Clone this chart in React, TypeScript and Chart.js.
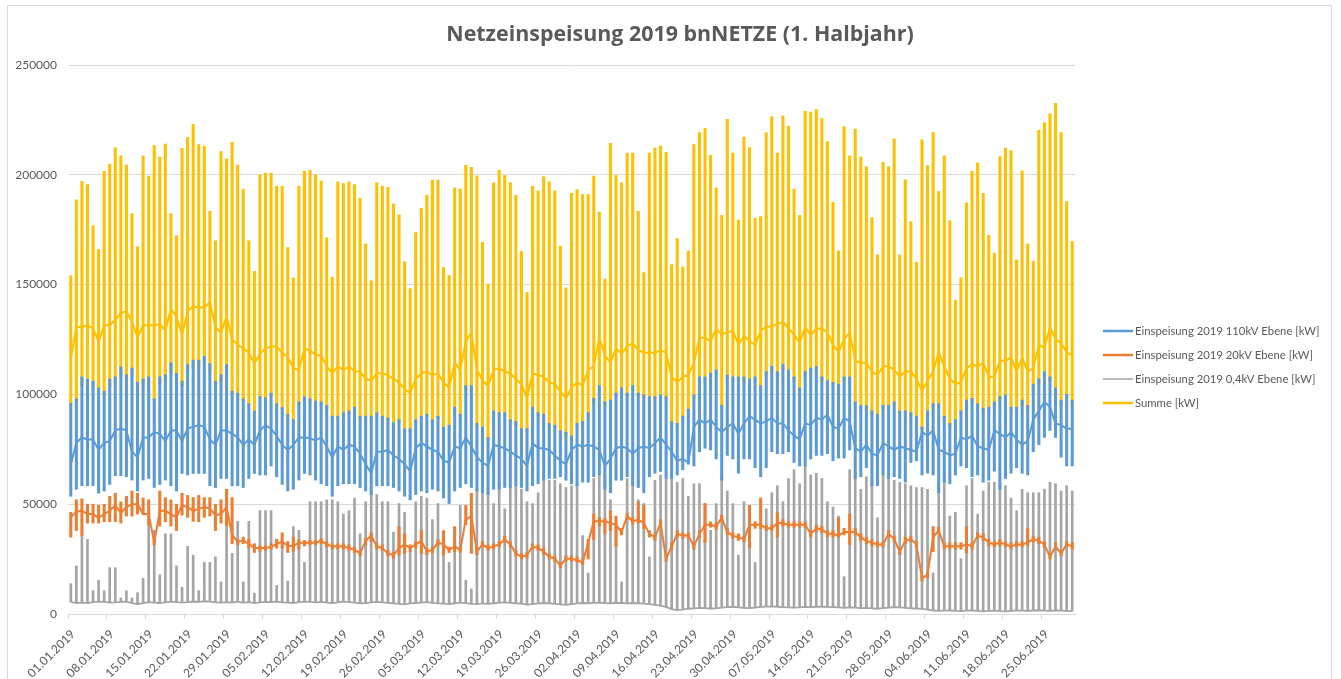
import React, { useEffect, useRef } from "react";
import { Chart, registerables } from "chart.js";

Chart.register(...registerables);

// ---- DATA (values in thousand kW, one entry per day, 01.01.2019 .. 30.06.2019) ----
const TITLE = "Netzeinspeisung 2019 bnNETZE (1. Halbjahr)";
const SERIES_LABELS = [
  "Einspeisung 2019 110kV Ebene [kW]",
  "Einspeisung 2019 20kV Ebene [kW]",
  "Einspeisung 2019 0,4kV Ebene [kW]",
  "Summe [kW]",
];
const TICK_LABELS = [
  "01.01.2019", "08.01.2019", "15.01.2019", "22.01.2019", "29.01.2019", "05.02.2019",
  "12.02.2019", "19.02.2019", "26.02.2019", "05.03.2019", "12.03.2019", "19.03.2019",
  "26.03.2019", "02.04.2019", "09.04.2019", "16.04.2019", "23.04.2019", "30.04.2019",
  "07.05.2019", "14.05.2019", "21.05.2019", "28.05.2019", "04.06.2019", "11.06.2019",
  "18.06.2019", "25.06.2019",
];
const Y_TICKS = [0, 50000, 100000, 150000, 200000, 250000];

// Summe: daily maximum, daily minimum, value at midnight
const SUM_MAX = [
  154, 188.6, 197, 195.6, 176.8, 166, 201.6, 204.9, 212.3, 208.6, 204.5, 182.3, 167.2, 208.6, 199.4, 213.3, 208, 214, 182.3, 172.2, 212, 217, 223, 213.8, 213, 183.4, 170, 210.6, 207.3, 214.8, 204.4, 193.5, 170, 156, 200, 200.8, 200.8, 194.8, 194.8, 166.9, 153, 194.8, 201.6, 202, 200,
  197.2, 171.3, 153.4, 196.8, 196, 196.8, 195.6, 189.4, 168.5, 151.8, 196.4, 194.8, 194.3, 186.7, 181.8, 160.4, 148.2, 173.7, 184.7, 190.7, 197.6, 197.6, 157.8, 154.2, 194, 193.5, 204.4, 203.4, 199.5, 169.2, 150.2, 196.4, 202.1, 199.7, 196.4, 190.7, 165.1, 146.4, 194.8, 192.7, 199.2, 196.8, 192.7, 167.5, 148.5,
  191.6, 193.2, 191, 191, 199.4, 183, 152.6, 214.3, 199.7, 196.4, 209.9, 209.9, 183.4, 155.5, 209.9, 212.2, 213.1, 210.2, 159.1, 171, 158, 165.3, 213.8, 219.2, 221.1, 208.9, 194, 181.5, 225.3, 209.9, 179.4, 217.2, 212.3, 180.2, 181, 219.2, 226.5, 209.9, 226.8, 222.1, 193.5, 181.5, 228.9, 228.6, 229.7,
  225.6, 215.1, 187.5, 165.3, 221.9, 208.6, 220.8, 208.1, 203.7, 180.5, 163.5, 205.7, 203.7, 216.4, 163.5, 197.7, 178.6, 160.2, 215.9, 204.2, 219.2, 192.4, 208.6, 179.1, 142.9, 153.1, 187.2, 201.6, 205.4, 191.6, 172.4, 164.3, 208.3, 212.2, 211, 161.2, 201.8, 168.5, 160.7, 220.3, 223.7, 227.8, 232.5, 219.2, 187.8, 169.6,
];
const SUM_MIN = [
  95, 97, 104, 104, 103, 101, 100, 104, 105, 108, 106, 108, 102, 104, 105, 97, 105, 106, 110, 106, 104, 110, 112, 112, 114, 110, 103, 106, 110, 100, 99, 97, 95, 92, 98, 97, 99, 95, 93, 90, 88, 95, 97, 96, 95,
  95, 93, 88, 89, 90, 91, 92, 89, 88, 88, 90, 89, 88, 86, 87, 83, 83, 87, 89, 90, 87, 89, 84, 85, 92, 90, 102, 102, 85, 84, 79, 91, 90, 90, 87, 86, 83, 83, 92, 90, 90, 85, 85, 82, 81,
  80, 85, 86, 90, 96, 102, 95, 96, 99, 101, 99, 102, 99, 98, 98, 98, 98, 98, 86, 85, 89, 92, 98, 106, 106, 108, 109, 94, 107, 106, 106, 106, 105, 106, 102, 108, 110, 108, 111, 109, 106, 101, 108, 110, 110,
  106, 104, 104, 103, 106, 106, 95, 93, 93, 91, 89, 93, 93, 95, 91, 91, 90, 88, 84, 91, 94, 94, 88, 85, 87, 91, 96, 96, 94, 92, 92, 95, 97, 98, 92, 92, 95, 93, 102, 105, 108, 106, 101, 95, 98, 95,
];
const SUM_NIGHT = [
  116, 130.7, 130.7, 131.5, 130, 124, 131.5, 131.5, 134, 137, 138, 133, 126, 131.5, 131.5, 131.5, 132, 129, 139, 135.5, 127, 138, 140, 139.6, 139.6, 142, 130.7, 128, 135.5, 125, 122.6, 121, 119, 114, 118.5, 121, 121.8, 121.8, 119, 117, 112, 111, 121, 120, 118,
  117.7, 112.8, 109.6, 112.8, 111.2, 112.8, 110.4, 110.4, 107.1, 106.3, 109.6, 109.6, 108.8, 107.1, 105.5, 102.3, 100.6, 107, 109.6, 110.4, 108.8, 109.6, 105.5, 103, 114.4, 111.2, 124.2, 128.2, 111.2, 106.3, 103.9, 111.2, 112, 110.4, 109.6, 107, 104.7, 98.2, 109.6, 108.8, 108, 105.5, 104.7, 101.5, 98.2,
  103, 105.5, 104, 111.2, 112.8, 125.8, 117.7, 114.4, 121, 118.5, 121.8, 123.4, 120.1, 119, 119, 119, 120.1, 119, 108, 105.5, 108, 108.8, 114.4, 125.8, 125.8, 124.2, 129.9, 127.4, 128.2, 129, 122.6, 126.6, 124.2, 122.6, 129, 130.7, 131, 132, 133.1, 129.9, 127.4, 123.4, 130.7, 127, 130,
  129.9, 128.2, 122.6, 119.3, 125, 128.2, 115.3, 114.4, 114.4, 110.4, 108.8, 112.8, 112.8, 111.2, 108, 110.4, 110.4, 107.1, 101.5, 106.3, 110.4, 119.3, 112.8, 107.1, 104.7, 105.5, 112, 113.6, 112.8, 114.4, 108, 108, 115.3, 115.3, 116.9, 110.4, 116.9, 110.4, 112, 122.6, 121, 130.7, 125, 123.4, 119.3, 117.7,
];

// 110kV
const HV_MAX = [
  96, 98, 108, 107, 106, 103, 101.5, 107, 108, 112.5, 109, 112, 105.5, 107, 108, 98, 108, 109, 114.4, 109.6, 106, 113.6, 115.6, 115.6, 117.4, 114, 106, 109, 113.6, 101.5, 100.6, 98, 95.8, 92.5, 99, 98.5, 100.6, 95.8, 94, 91, 88.5, 96.6, 99, 98, 97,
  96.6, 95, 90.1, 90.1, 91.7, 92.5, 94.2, 90.1, 90.1, 90.1, 91.7, 90.1, 89.3, 87.2, 88.5, 84.4, 84.4, 88.5, 90.1, 91, 88.5, 90.1, 85.2, 86, 94.2, 91, 104, 104, 86.8, 85.2, 80.4, 92.5, 91.7, 91.7, 88.5, 87.7, 84.4, 84.4, 94.2, 91.7, 91, 86.8, 86, 83.6, 82.8,
  81.2, 86.8, 87.7, 91.7, 98.2, 104, 96.6, 97.4, 100.6, 103, 100.6, 104, 100.6, 99.8, 99, 99, 99.8, 99, 87.7, 86.8, 90.1, 93.3, 99.8, 108, 108, 109.6, 111.2, 95, 108.8, 108, 108, 108, 107.1, 108, 104, 110.4, 112.8, 110.4, 113.6, 111.2, 108, 103, 110.4, 112, 112.8,
  108, 106.3, 105.5, 104.7, 108, 108, 96.6, 95, 95, 92.5, 91, 95, 95, 96.6, 92.5, 92.5, 91.7, 90.1, 85.2, 92.5, 95.8, 95.8, 90.1, 86.8, 88.5, 92.5, 97.4, 98.2, 95.8, 93.7, 94.2, 96.6, 99, 99.8, 94.2, 94.2, 97.4, 95, 104.7, 107.1, 110.4, 108, 103, 97.4, 100, 97.4,
];
const HV_MIN = [
  53.6, 56.8, 58.4, 58.4, 58.4, 55, 56, 59, 63, 63, 62.5, 61, 56, 61, 61.7, 57.6, 59, 61, 58.4, 56, 64, 63.3, 64, 64, 64, 58.4, 57.6, 61.7, 61.7, 58.4, 58.4, 57.6, 61.7, 64, 63.3, 63.3, 67.4, 62.5, 59, 56, 56.8, 61, 64, 63.3, 61,
  59.3, 58.4, 53.6, 58.4, 59.3, 59.3, 59.3, 57.6, 56, 54.4, 58.4, 58.4, 58.4, 57.6, 56, 53.6, 52, 54.4, 56, 55.2, 56.8, 56, 52.8, 50.3, 56, 57.6, 59.3, 57.6, 56, 55.2, 54.4, 56.8, 56.8, 57.6, 57.6, 58.4, 57.6, 56, 58.4, 59.3, 60.9, 61.7, 61.7, 62.5, 60.9,
  59.3, 58.4, 60, 60, 62.5, 63.3, 56.8, 55.2, 60.9, 60.9, 62.5, 58.4, 57.6, 55.2, 62.5, 64.1, 64.9, 61.7, 61.7, 63.3, 65.7, 68.2, 67.4, 73.9, 75.5, 74.7, 70.6, 60.9, 72.2, 70.6, 64.1, 70.6, 70.6, 66.6, 62.5, 66.6, 73.9, 73, 73, 73.9, 69, 67.4, 67.4, 70.6, 72.2,
  72.2, 73, 69.8, 71, 71, 74.7, 61.7, 62.5, 66.6, 58.4, 58.4, 63.3, 61.7, 62.5, 61.7, 60, 69, 69.8, 63.3, 64.1, 63.3, 55.2, 60, 59.3, 63.3, 67.4, 66.6, 62.5, 63.3, 60, 60.9, 65, 56.8, 61.7, 64.1, 66.6, 64.1, 63.3, 73.9, 77.1, 80.4, 83.6, 80.4, 71.4, 67.4, 67.4,
];
const HV_NIGHT = [
  68, 78, 80.4, 79.5, 79.5, 74.7, 78, 78.7, 83.6, 84.4, 83.6, 73.9, 71.4, 80.4, 80.4, 82.8, 82, 78.7, 83.6, 83.6, 78.7, 84.4, 85.2, 86, 85.2, 79.5, 77, 83.6, 83.6, 82, 80.4, 77, 79.5, 77, 83.6, 86, 84.4, 81, 77, 74.7, 77, 80.4, 80.4, 80, 79,
  80.4, 76.3, 71.4, 76.3, 74.7, 77.1, 76.3, 73, 68.2, 64.1, 73.9, 73.9, 74.7, 72.2, 70.6, 68.2, 65, 75.5, 77.9, 76.3, 74.7, 73.9, 69.8, 69, 76.3, 75.5, 80.4, 76.3, 71.4, 69, 67.4, 77.1, 76.3, 75.5, 73.9, 72.2, 70.6, 67.4, 77.9, 75.5, 75.5, 74.7, 72.2, 69.8, 68.2,
  74.7, 77.1, 76.3, 77.1, 76.3, 74.7, 67.4, 70.6, 75.5, 76.3, 75.5, 73, 75.5, 76.3, 75.5, 77.9, 80.4, 77.1, 73.9, 69.8, 70.6, 69, 85.2, 88.5, 86.8, 88.5, 85.2, 82.8, 85.2, 86.8, 82, 86.8, 90.1, 88.5, 86.8, 87.7, 89.3, 86.8, 86.8, 83.6, 81.2, 79.5, 86.8, 86, 89.3,
  88.5, 90.9, 85.2, 84.4, 89.3, 87.7, 75.5, 73.9, 77.1, 73, 72.2, 77.9, 76.3, 74.7, 76.3, 75.5, 74.7, 73.9, 82.8, 81.2, 83.6, 74.7, 73.9, 72.2, 73, 80.4, 79.5, 81.2, 76.3, 75.5, 74.7, 83.6, 82, 80.4, 82.8, 79.5, 77.1, 78.7, 88.5, 92.5, 96.6, 94.2, 86.8, 86, 84.4, 84.4,
];

// 20kV
const MV_MAX = [
  46.3, 52, 52.4, 50, 50, 49.5, 50, 53.6, 55, 51, 53.6, 56, 55, 52.8, 52, 34, 56, 53, 52, 50, 55, 54, 53, 54, 53, 53, 50, 52, 56.8, 53, 34, 35, 34, 32, 31, 31, 32, 34, 37, 33, 35, 34, 33.5, 33.5, 33.5,
  34.5, 33, 32, 32, 32, 31.5, 30.5, 29, 34.5, 37, 32, 31.5, 29, 28, 39.8, 36.5, 31.5, 33, 38, 30, 30.5, 34, 38, 30.5, 39.8, 30.5, 49.5, 55, 30, 33, 31.5, 32, 33, 35.5, 33, 29, 27.5, 28, 32, 31.5, 30, 27.5, 26.5, 23.5, 26.5,
  26.5, 26, 25, 34, 45.5, 44, 43.5, 47, 44.6, 39, 46, 44, 51.1, 49.5, 38, 36.5, 43, 27, 32.5, 38, 37, 37, 32.5, 38, 50.3, 42, 41.5, 45, 39, 37, 36.5, 35.5, 49.5, 42, 52.8, 40.5, 40.5, 46.3, 43, 42, 42, 42, 42, 38, 40.5,
  40, 38, 38, 43.8, 39, 45.5, 39, 36.5, 35, 34, 33, 33, 38, 35.5, 30, 35, 35.5, 33, 17.5, 19, 39.8, 39.5, 32.5, 32.5, 32.5, 32.5, 39.8, 32.5, 37, 36.5, 34, 33, 34, 33, 32.5, 33, 33, 38.9, 35.5, 35, 33, 27.5, 32.5, 29, 33, 32.5,
];
const MV_MIN = [
  35, 38, 35.7, 41.4, 41.4, 41.4, 42, 42, 42, 41.4, 44.6, 44.6, 45.5, 45.5, 40.6, 31.5, 40, 42, 40, 38, 45, 44, 42.2, 42, 44, 44.6, 38, 41.4, 40, 32, 31.5, 32, 30, 28, 28.5, 29, 29.5, 30, 30, 28, 28.5, 29.5, 31, 31.5, 31.5,
  32, 30.5, 29.5, 29.5, 29.5, 29, 28, 26.5, 31.5, 33, 29.5, 29, 26.5, 25.5, 26.8, 27.6, 28.5, 30, 27.6, 27, 28, 31, 26.8, 28, 28.4, 28, 40.6, 27.6, 27, 30.5, 29, 29.5, 30.5, 32.5, 30.5, 26.5, 25, 25.5, 29.5, 29, 27, 25, 24, 21, 24,
  24, 23.5, 22.5, 25, 34, 40, 36.5, 38, 30.8, 36, 43, 41, 41.4, 38.9, 35, 33.5, 40, 24, 29.5, 35, 34.5, 34.5, 29.5, 35, 32.5, 39.5, 38.5, 42, 36, 34.5, 33.5, 33, 30, 39, 38.9, 38, 38, 34.9, 40, 39.5, 39.5, 39.5, 39.5, 35, 37.5,
  37, 35, 35, 34.9, 36, 31.7, 36, 33.5, 32, 31, 30.5, 30.5, 35, 33, 27, 32, 33, 30.5, 15, 16.5, 28.4, 37, 29.5, 29.5, 29.5, 29.5, 27.6, 29.5, 34.5, 33.5, 31, 30.5, 31, 30.5, 29.5, 30.5, 30.5, 31, 33, 32, 30.5, 25, 29.5, 26.5, 30.5, 29.5,
];
const MV_NIGHT = [
  44, 46.6, 47, 45.5, 45.5, 43.8, 45.5, 47, 49.5, 46, 48.7, 50, 50, 45.5, 45.5, 32.5, 47, 47, 45.5, 44, 49.5, 48.7, 47, 48, 48.7, 48, 45, 45.5, 48.7, 36, 33, 33.3, 32, 30, 30, 30, 30.5, 32, 33, 31, 31, 32.5, 32.5, 32.5, 32.5,
  33.3, 31.7, 30.8, 30.8, 30.8, 30, 29.2, 27.6, 33.3, 35.7, 30.8, 30, 27.6, 26.8, 30, 31.7, 30, 31.7, 33.3, 28.4, 29.2, 32.5, 31.7, 29.2, 30.8, 29.2, 43, 44.6, 28.4, 31.7, 30, 30.8, 31.7, 34, 31.7, 27.6, 26, 26.8, 30.8, 30, 28.4, 26, 25.2, 22, 25.2,
  25.2, 24.5, 23.5, 32.5, 42.2, 42.2, 42.2, 41.4, 40.6, 37.3, 44.6, 42.2, 43, 41.4, 36.5, 34.9, 41.4, 25.2, 30.8, 36.5, 35.7, 35.7, 30.8, 36.5, 40.6, 40.6, 39.8, 43.8, 37.3, 35.7, 34.9, 34.1, 40.6, 40.6, 40.6, 39, 39, 41.4, 41.4, 40.6, 40.6, 40.6, 40.6, 36.5, 39,
  38.5, 36.5, 36.5, 35.7, 37.3, 37.3, 37.3, 34.9, 33.3, 32.5, 31.7, 31.7, 36.5, 34.1, 28.4, 33.3, 34.1, 31.7, 16.2, 17.9, 34.9, 38.1, 30.8, 30.8, 30.8, 30.8, 31.7, 30.8, 35.7, 34.9, 32.5, 31.7, 32.5, 31.7, 30.8, 31.7, 31.7, 32.5, 34.1, 33.3, 31.7, 26, 30.8, 27.6, 31.7, 30.8,
];

// 0,4kV
const LV_MAX = [
  13.8, 21.9, 35.7, 34, 10.6, 15.4, 10.6, 21.1, 21.1, 7.3, 10.6, 7.3, 9.7, 16.2, 40.6, 38.1, 17.9, 36.5, 36.5, 21.9, 12.2, 30.8, 26.8, 10.6, 23.5, 23.5, 26, 14.6, 39.8, 27.6, 42.2, 14.6, 42.2, 9.5, 47.1, 47.1, 47.1, 13, 32, 15, 39.8, 38.1, 23.5, 51.1, 51.1,
  51.1, 52, 52, 51.1, 45.5, 47, 52.8, 36.5, 51.1, 55.2, 54.4, 51.1, 51.1, 37.3, 50.3, 46.3, 29.2, 51.1, 53.6, 52.8, 43, 50.3, 30.8, 23.5, 39, 49.5, 15.4, 11.4, 56.8, 56.8, 57.6, 50.3, 60, 47.9, 58.4, 58.4, 56.8, 51.1, 50.3, 55.2, 61.7, 60.9, 60.9, 59.3, 57.6,
  58.4, 59.3, 35.7, 18.7, 61.7, 63.3, 63.3, 52, 39.8, 14.6, 61.7, 63.3, 52, 50.3, 26, 60.9, 63.3, 61.7, 61.7, 60, 61.7, 53.6, 59.3, 59.3, 50.3, 38.1, 50.3, 63.3, 56, 50.3, 26.8, 51.1, 48.7, 23.5, 39, 47.9, 55.2, 58.4, 51.1, 61.7, 65.7, 59.3, 67.4, 63.3, 64.1,
  61.7, 51.1, 48.7, 44.6, 17, 65.7, 64.9, 56.8, 62.5, 60.9, 43.8, 63.3, 63.3, 60.9, 60, 59.3, 58.4, 57.6, 57.6, 56.8, 18.7, 59.3, 63.3, 44.6, 46.3, 25.2, 58.4, 61.7, 45.5, 56, 60, 60, 59.3, 58.4, 52.8, 47, 56.8, 55.2, 55.2, 55.2, 56.8, 60, 59.3, 56, 58.4, 56,
];
const LV_NIGHT = [
  5.5, 5, 5.2, 5, 5.4, 5.6, 5.5, 5.2, 5.3, 5.5, 5.6, 4.9, 4.5, 5, 5.4, 5.2, 5, 5.3, 5.6, 5.4, 5.2, 5.4, 5.7, 5.5, 5.8, 5.6, 5.3, 5.2, 5.4, 5.2, 5.6, 5.2, 5.4, 5, 5.3, 5.5, 5.4, 5.6, 5.3, 5.2, 5, 5.4, 5.6, 5.5, 5.3,
  5.5, 5.2, 5, 5.3, 5.6, 5.4, 5.2, 4.8, 5, 5.3, 5.5, 5.3, 5.1, 4.9, 4.6, 4.4, 4.8, 5, 5.2, 5.4, 5.1, 4.8, 4.7, 4.5, 4.9, 5.2, 5, 4.6, 4.5, 4.8, 4.6, 4.9, 5.2, 5.3, 5.1, 4.9, 4.7, 4.3, 4.5, 4.8, 5, 4.9, 4.6, 4.4, 4.2,
  4.5, 4.8, 5, 4.9, 5.1, 5.2, 5, 4.9, 5.1, 5, 4.8, 5, 4.9, 4.7, 4.5, 4.2, 3.8, 3.2, 2.2, 1.8, 2, 2.4, 2.6, 2.8, 2.7, 2.5, 2.6, 2.9, 3.1, 3.3, 3, 2.8, 2.7, 2.9, 3.2, 3.4, 3.5, 3.3, 3.1, 3, 2.9, 3, 3.2, 3.1, 3.3,
  3.4, 3.2, 3.1, 3, 2.8, 3, 2.9, 2.7, 2.8, 2.6, 2.4, 2.7, 2.9, 3.1, 3, 2.8, 2.6, 2.5, 2.3, 2, 1.6, 1.4, 1.5, 1.6, 1.4, 1.3, 1.5, 1.6, 1.4, 1.2, 1.4, 1.5, 1.3, 1.2, 1.4, 1.6, 1.5, 1.4, 1.6, 1.7, 1.5, 1.4, 1.6, 1.5, 1.4, 1.3,
];

const DAY_COUNT = SUM_MAX.length; // 181 days
const UNIT = 1000; // arrays are in thousand kW

const COLORS = ["#5B9BD5", "#ED7D31", "#A5A5A5", "#FFC000"];
const FONT = "Lato, 'Open Sans', sans-serif";
const TITLE_FONT = "'Open Sans', Lato, sans-serif";

function rangeData(min: number[], max: number[]) {
  return max.map((mx, i) => ({ x: i + 0.5, y: [min[i] * UNIT, mx * UNIT] }));
}
function pointData(vals: number[]) {
  return vals.map((v, i) => ({ x: i + 0.5, y: v * UNIT }));
}

const titleAndLegend = {
  id: "titleAndLegend",
  afterDraw(chart: any) {
    const ctx = chart.ctx;
    ctx.save();
    ctx.fillStyle = "#595959";
    ctx.font = `bold 21.4px ${TITLE_FONT}`;
    ctx.textAlign = "center";
    ctx.textBaseline = "middle";
    ctx.fillText(TITLE, 680, 35);

    const rows = [331, 355, 379, 403];
    ctx.font = `11.3px ${FONT}`;
    ctx.textAlign = "left";
    SERIES_LABELS.forEach((label, i) => {
      const y = rows[i];
      ctx.strokeStyle = COLORS[i];
      ctx.lineWidth = i === 2 ? 1.5 : 2.5;
      ctx.beginPath();
      ctx.moveTo(1103, y);
      ctx.lineTo(1133, y);
      ctx.stroke();
      ctx.fillStyle = "#595959";
      ctx.fillText(label, 1135, y + 0.5);
    });
    ctx.restore();
  },
};

export default function App() {
  const ref = useRef<HTMLCanvasElement | null>(null);

  useEffect(() => {
    if (!ref.current) return;
    const barCommon = { type: "bar" as const, grouped: false, borderWidth: 0, borderSkipped: false };
    const lineCommon = { type: "line" as const, pointRadius: 0, fill: false, tension: 0 };
    const chart = new Chart(ref.current, {
      type: "bar",
      data: {
        datasets: [
          { ...lineCommon, label: SERIES_LABELS[0] + " night", data: pointData(HV_NIGHT), borderColor: COLORS[0], borderWidth: 2, order: 0 },
          { ...barCommon, label: SERIES_LABELS[0], data: rangeData(HV_MIN, HV_MAX), backgroundColor: COLORS[0], barThickness: 2.4, order: 1 },
          { ...lineCommon, label: SERIES_LABELS[1] + " night", data: pointData(MV_NIGHT), borderColor: COLORS[1], borderWidth: 2, order: 2 },
          { ...barCommon, label: SERIES_LABELS[1], data: rangeData(MV_MIN, MV_MAX), backgroundColor: COLORS[1], barThickness: 2.4, order: 3 },
          { ...lineCommon, label: SERIES_LABELS[3] + " night", data: pointData(SUM_NIGHT), borderColor: COLORS[3], borderWidth: 2, order: 4 },
          { ...barCommon, label: SERIES_LABELS[3], data: rangeData(SUM_MIN, SUM_MAX), backgroundColor: COLORS[3], barThickness: 2.4, order: 5 },
          { ...lineCommon, label: SERIES_LABELS[2] + " night", data: pointData(LV_NIGHT), borderColor: COLORS[2], borderWidth: 1.8, order: 6 },
          { ...barCommon, label: SERIES_LABELS[2], data: rangeData(LV_NIGHT, LV_MAX), backgroundColor: COLORS[2], barThickness: 2, order: 7 },
        ] as any,
      },
      options: {
        animation: false,
        responsive: false,
        maintainAspectRatio: false,
        layout: { padding: { left: 0, right: 266, top: 65, bottom: 0 } },
        plugins: {
          legend: { display: false },
          title: { display: false },
          tooltip: { enabled: false },
        },
        scales: {
          x: {
            type: "linear",
            offset: false,
            min: 0,
            max: DAY_COUNT,
            afterBuildTicks: (scale: any) => {
              scale.ticks = TICK_LABELS.map((_, i) => ({ value: i * 7 }));
            },
            afterFit: (scale: any) => {
              scale.height = 65;
            },
            border: { display: true, color: "#d9d9d9", width: 1 },
            grid: { display: true, offset: false, drawOnChartArea: false, drawTicks: true, tickLength: 5, color: "#d9d9d9" },
            ticks: {
              autoSkip: false,
              minRotation: 45,
              maxRotation: 45,
              padding: 8,
              labelOffset: 5,
              color: "#595959",
              font: { family: FONT, size: 12 },
              callback: (v: any) => TICK_LABELS[Math.round(Number(v) / 7)] ?? "",
            },
          },
          y: {
            type: "linear",
            min: 0,
            max: 250000,
            afterBuildTicks: (scale: any) => {
              scale.ticks = Y_TICKS.map((v) => ({ value: v }));
            },
            afterFit: (scale: any) => {
              scale.width = 68;
            },
            border: { display: false },
            grid: { color: "#d9d9d9", drawTicks: false },
            ticks: {
              padding: 11,
              color: "#595959",
              font: { family: FONT, size: 12 },
              callback: (v: any) => String(v),
            },
          },
        },
      } as any,
      plugins: [titleAndLegend],
    });
    return () => chart.destroy();
  }, []);

  return (
    <div style={{ position: "fixed", left: 0, top: 0, width: 1341, height: 679, overflow: "hidden", background: "#fff" }}>
      <div style={{ position: "absolute", left: 7, top: 5, width: 1323, height: 720, border: "1px solid #d9d9d9" }} />
      <canvas ref={ref} width={1341} height={679} style={{ position: "absolute", left: 0, top: 0, width: 1341, height: 679 }} />
    </div>
  );
}
